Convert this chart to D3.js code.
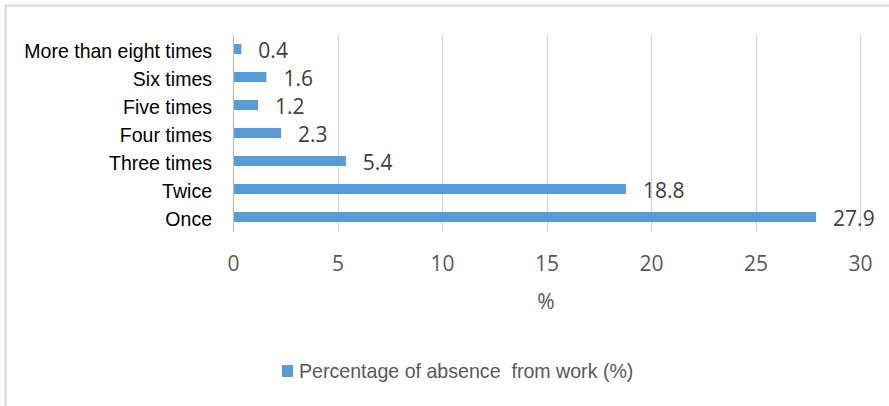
<!DOCTYPE html>
<html><head><meta charset="utf-8">
<script src="https://cdn.jsdelivr.net/npm/d3@7"></script>
<style>body{margin:0;background:#fff}</style>
</head><body>
<svg id="c" width="889" height="406"></svg>
<script>
const categories = ["More than eight times","Six times","Five times","Four times","Three times","Twice","Once"];
const values = [0.4,1.6,1.2,2.3,5.4,18.8,27.9];
const xTicks = [0,5,10,15,20,25,30];
const seriesName = "Percentage of absence\u00a0 from work (%)";
const axisTitle = "%";

const svg = d3.select("#c");
svg.append("rect").attr("x",5.5).attr("y",5.5).attr("width",900).attr("height",420)
  .attr("fill","none").attr("stroke","#d9d9d9").attr("stroke-width",2);

const x = d3.scaleLinear().domain([0,30]).range([233,860]);
const y = d3.scaleBand().domain(categories).range([35,231]).paddingInner(0.64).paddingOuter(0.32);

const numFont = "'Open Sans', 'DejaVu Sans', sans-serif";
const catFont = "'Liberation Sans', Arial, sans-serif";

svg.append("g").selectAll("line").data(xTicks).join("line")
  .attr("x1",d=>Math.round(x(d))+0.5).attr("x2",d=>Math.round(x(d))+0.5)
  .attr("y1",35).attr("y2",232).attr("stroke","#d9d9d9").attr("stroke-width",1.2);

const xa = svg.append("g").attr("transform","translate(0,231)")
  .call(d3.axisBottom(x).tickValues(xTicks).tickSize(0).tickPadding(0));
xa.select(".domain").remove();
xa.selectAll("text").attr("y",32).attr("dy","0.36em").attr("font-family",numFont).attr("font-size",21).attr("fill","#595959");

svg.append("g").selectAll("rect").data(values).join("rect")
  .attr("x",x(0)).attr("y",(d,i)=>y(categories[i]))
  .attr("width",d=>x(d)-x(0)).attr("height",y.bandwidth()).attr("fill","#5b9bd5");

svg.append("g").selectAll("text").data(values).join("text")
  .attr("x",d=>x(d)+17).attr("y",(d,i)=>y(categories[i])+y.bandwidth()/2+1)
  .attr("dy","0.36em").attr("font-family",numFont).attr("font-size",21).attr("fill","#404040")
  .text(d=>d.toFixed(1));

const ya = svg.append("g").attr("transform","translate(233,0)")
  .call(d3.axisLeft(y).tickSize(0).tickPadding(21));
ya.select(".domain").attr("stroke","#bfbfbf").attr("stroke-width",1.2);
const sx = 0.93;
ya.selectAll("text").attr("font-family",catFont).attr("font-size",21).attr("fill","#000")
  .attr("dy","0.36em").attr("x",-21/sx).attr("y",1.5).attr("transform",`scale(${sx},1)`);

svg.append("text").attr("x",546).attr("y",301).attr("dy","0.36em").attr("text-anchor","middle")
  .attr("font-family",numFont).attr("font-size",21).attr("fill","#595959").text(axisTitle);

const ls = 0.98;
svg.append("rect").attr("x",282).attr("y",365).attr("width",11).attr("height",12).attr("fill","#5b9bd5");
svg.append("text").attr("x",299/ls).attr("y",378).attr("transform",`scale(${ls},1)`)
  .attr("font-family",catFont).attr("font-size",20).attr("fill","#595959").text(seriesName);
</script>
</body></html>
